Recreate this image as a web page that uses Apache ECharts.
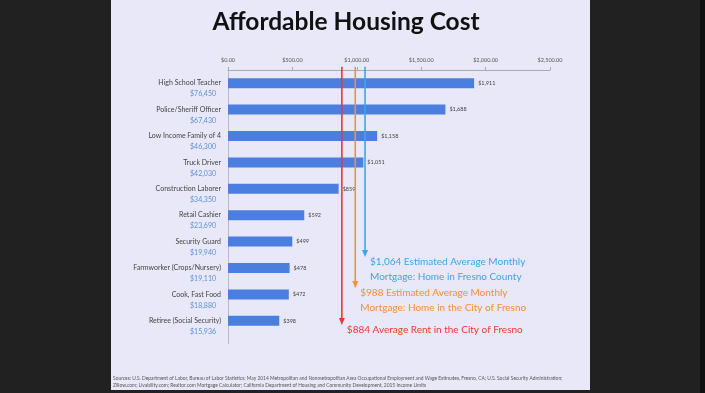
<!DOCTYPE html>
<html><head><meta charset="utf-8">
<script src="https://cdn.jsdelivr.net/npm/echarts@6/dist/echarts.min.js"></script>
<style>html,body{margin:0;padding:0;background:#212121;}#c{width:705px;height:393px;}</style>
</head><body><div id="c"></div>
<script>
const categories = ['High School Teacher','Police/Sheriff Officer','Low Income Family of 4','Truck Driver','Construction Laborer','Retail Cashier','Security Guard','Farmworker (Crops/Nursery)','Cook, Fast Food','Retiree (Social Security)'];
const salaries = ['$76,450','$67,430','$46,300','$42,030','$34,350','$23,690','$19,940','$19,110','$18,880','$15,936'];
const housingCost = [1911, 1688, 1158, 1051, 859, 592, 499, 478, 472, 398];
const refValues = [884, 988, 1064];
const refLabels = [
  ['$884 Average Rent in the City of Fresno'],
  ['$988 Estimated Average Monthly','Mortgage: Home in the City of Fresno'],
  ['$1,064 Estimated Average Monthly','Mortgage: Home in Fresno County']
];
const xTicks = [0, 500, 1000, 1500, 2000, 2500];
const titleText = 'Affordable Housing Cost';
const sourceLines = [
  'Sources: U.S. Department of Labor, Bureau of Labor Statistics: May 2014 Metropolitan and Nonmetropolitan Area Occupational Employment and Wage Estimates, Fresno, CA; U.S. Social Security Administration;',
  'Zillow.com; Livability.com; Realtor.com Mortgage Calculator; California Department of Housing and Community Development, 2015 Income Limits'
];

// styling / layout config
const refColors = ['#e83a34', '#f0903c', '#3aa6ec'];
const arrowEnds = [9.16, 7.76, 6.58];
const fontFam = 'Lato, "Open Sans", sans-serif';

const chart = echarts.init(document.getElementById('c'));
chart.setOption({
  backgroundColor: '#212121',
  animation: false,
  graphic: [
    {type:'rect', shape:{x:111, y:0, width:479, height:390}, style:{fill:'#e8e8f8'}, z:-10},
    {type:'rect', shape:{x:700, y:0, width:5, height:393}, style:{fill:'#111'}, z:-10},
    {type:'text', x:346, y:22, style:{text:titleText, font:'bold 24.5px ' + fontFam, fill:'#111', textAlign:'center', textVerticalAlign:'middle'}},
    {type:'text', x:113, y:378, style:{text:sourceLines[0], font:'4.9px ' + fontFam, fill:'#555', textVerticalAlign:'middle'}},
    {type:'text', x:113, y:385, style:{text:sourceLines[1], font:'4.9px ' + fontFam, fill:'#555', textVerticalAlign:'middle'}},
    {type:'line', shape:{x1:228.5, y1:334, x2:228.5, y2:344}, style:{stroke:'#bbb', lineWidth:1}}
  ],
  grid: {left: 228, right: 155, top: 70, bottom: 59, containLabel: false},
  xAxis: {
    type: 'value', position: 'top', min: 0, max: 2500, interval: 500,
    axisLine: {show: true, onZero: false, lineStyle: {color: '#aaa', width: 1}},
    axisTick: {show: true, length: 3, lineStyle: {color: '#aaa'}},
    splitLine: {show: false},
    axisLabel: {fontSize: 5.5, color: '#555', fontFamily: fontFam, margin: 7,
      formatter: v => '$' + v.toLocaleString('en-US', {minimumFractionDigits: 2, maximumFractionDigits: 2})}
  },
  yAxis: [{
    type: 'category', inverse: true, data: categories,
    axisLine: {show: true, lineStyle: {color: '#bbb'}},
    axisTick: {show: false},
    axisLabel: {
      margin: 7, padding: [11, 0, 0, 0],
      formatter: (v, i) => '{n|' + v + '}\n{s|' + salaries[i] + '}',
      rich: {
        n: {fontSize: 7, color: '#444', fontFamily: fontFam, lineHeight: 11, align: 'right'},
        s: {fontSize: 7, color: '#5b93d6', fontFamily: fontFam, lineHeight: 11, align: 'right', padding: [0, 5, 0, 0]}
      }
    }
  }, {
    type: 'value', inverse: true, min: -0.5, max: 9.5, show: false
  }],
  series: [{
    type: 'bar', data: housingCost, barWidth: 10,
    itemStyle: {color: '#4a7fe0'},
    label: {show: true, position: 'right', distance: 4, fontSize: 5.5, color: '#444', fontFamily: fontFam,
      formatter: p => '$' + p.value.toLocaleString('en-US')}
  }, {
    type: 'custom', yAxisIndex: 1, clip: false, z: 5,
    data: refValues.map((v, i) => [v, arrowEnds[i]]),
    renderItem: (params, api) => {
      const i = params.dataIndex;
      const col = refColors[i];
      const top = api.coord([api.value(0), -0.62]);
      const end = api.coord([api.value(0), api.value(1)]);
      const children = [
        {type: 'line', shape: {x1: top[0], y1: top[1], x2: end[0], y2: end[1] - 5}, style: {stroke: col, lineWidth: 1.6}},
        {type: 'polygon', shape: {points: [[end[0] - 3, end[1] - 7], [end[0] + 3, end[1] - 7], [end[0], end[1]]]}, style: {fill: col}}
      ];
      refLabels[i].forEach((t, k) => {
        children.push({type: 'text', x: end[0] + 5, y: end[1] + 5 + k * 14.5,
          style: {text: t, font: '10px ' + fontFam, fill: col, textVerticalAlign: 'middle'}});
      });
      return {type: 'group', children};
    }
  }]
});
</script></body></html>
